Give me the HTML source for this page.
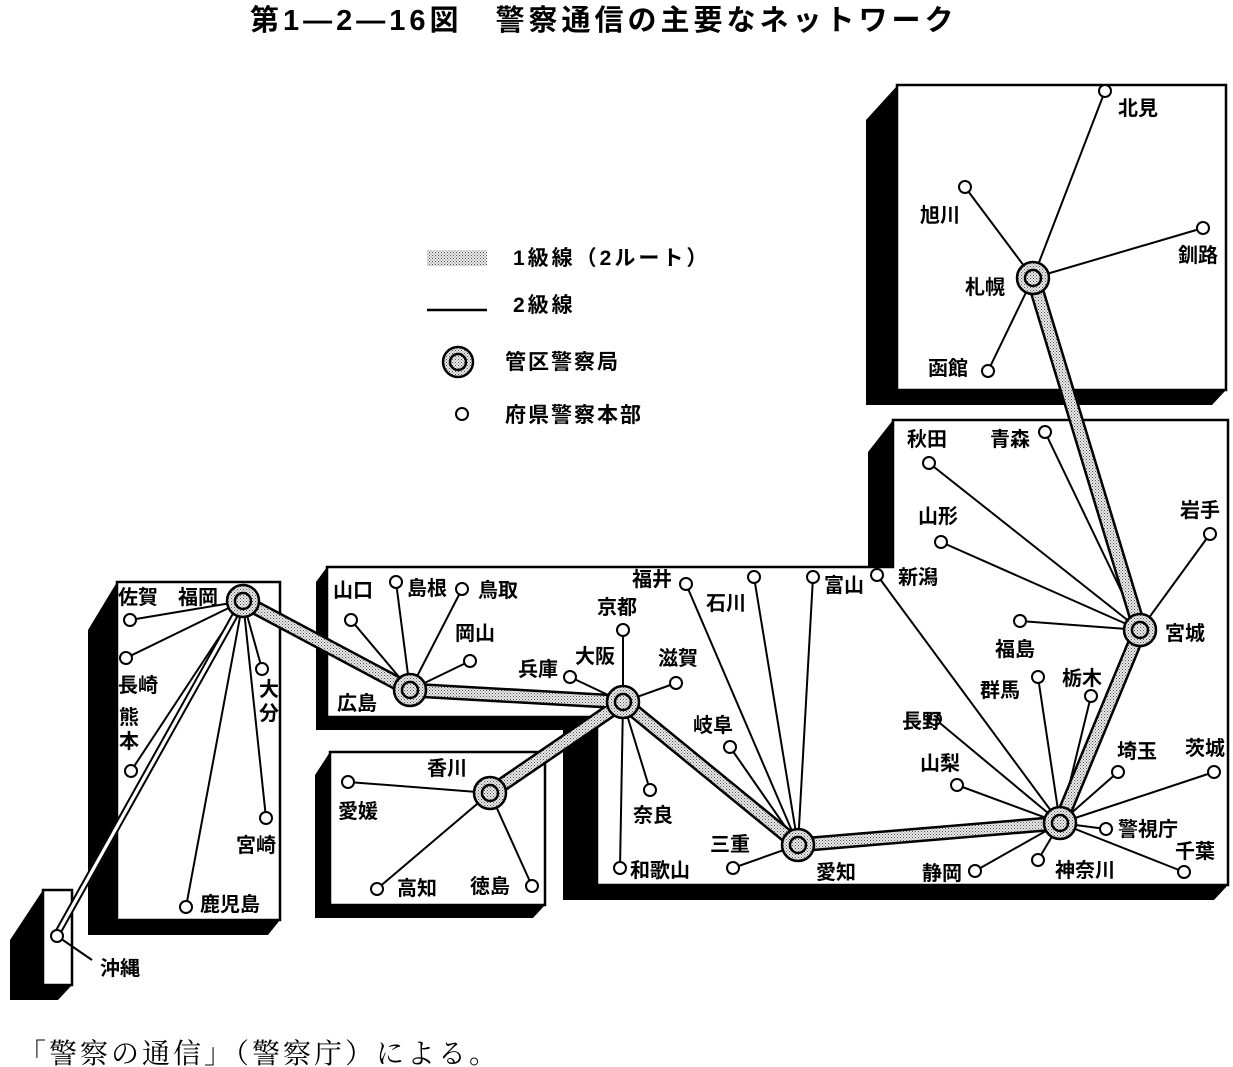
<!DOCTYPE html>
<html><head><meta charset="utf-8"><style>
html,body{margin:0;padding:0;background:#fff;}
svg{display:block;}
text{font-family:"Liberation Sans","Noto Sans CJK JP",sans-serif;font-weight:bold;font-size:20px;fill:#000;}
</style></head><body>
<svg width="1233" height="1067" viewBox="0 0 1233 1067" xmlns="http://www.w3.org/2000/svg">
<defs>
<pattern id="st" width="3" height="3" patternUnits="userSpaceOnUse"><rect width="3" height="3" fill="#e8e8e8"/><rect width="1" height="1" fill="#555"/><rect x="1.5" y="1.5" width="1" height="1" fill="#777"/></pattern>
</defs>
<text x="250" y="30" style="font-size:29px;letter-spacing:4px">第1—2—16図　警察通信の主要なネットワーク</text>

<!-- shadows -->
<polygon points="897,86 866,120 866,405 1212,405 1226,390 897,390" fill="#000"/>
<polygon points="893,420 868,452 868,567 893,567" fill="#000"/>
<polygon points="327,567 316,582 316,730 563,730 563,717 327,717" fill="#000"/>
<polygon points="563,717 563,900 1214,900 1228,885 597,885 597,717" fill="#000"/>
<polygon points="330,752 315,775 315,918 533,918 545,905 330,905" fill="#000"/>
<polygon points="117,582 88,630 88,935 268,935 280,920 117,920" fill="#000"/>
<polygon points="43,890 10,940 10,1000 58,1000 72,985 43,985" fill="#000"/>
<!-- boxes -->
<rect x="897" y="85" width="329" height="305" fill="#fff" stroke="#000" stroke-width="2.5"/>
<polygon points="327,567 893,567 893,420 1228,420 1228,885 597,885 597,717 327,717" fill="#fff" stroke="#000" stroke-width="2.5"/>
<rect x="330" y="752" width="215" height="153" fill="#fff" stroke="#000" stroke-width="2.5"/>
<rect x="117" y="582" width="163" height="338" fill="#fff" stroke="#000" stroke-width="2.5"/>
<rect x="43" y="890" width="29" height="95" fill="#fff" stroke="#000" stroke-width="2.5"/>

<!-- legend -->
<rect x="427" y="250" width="60" height="16" fill="url(#st)"/>
<text x="513" y="265" style="font-size:21px;letter-spacing:3px">1級線（2ルート）</text>
<line x1="427" y1="310" x2="487" y2="310" stroke="#000" stroke-width="2.5"/>
<text x="513" y="312" style="font-size:21px;letter-spacing:3px">2級線</text>
<g transform="translate(458,362)"><circle r="15" fill="url(#st)" stroke="#000" stroke-width="2.5"/><circle r="8" fill="url(#st)" stroke="#000" stroke-width="2.5"/></g>
<text x="505" y="369" style="font-size:21px;letter-spacing:2px">管区警察局</text>
<circle cx="462" cy="414" r="6" fill="#fff" stroke="#000" stroke-width="2"/>
<text x="505" y="422" style="font-size:21px;letter-spacing:2px">府県警察本部</text>

<!-- 2級線 -->
<g stroke="#000" stroke-width="2" fill="none">
<line x1="243" y1="601" x2="130" y2="620"/><line x1="243" y1="601" x2="126" y2="658"/>
<line x1="243" y1="601" x2="131" y2="771"/><line x1="243" y1="601" x2="262" y2="669"/>
<line x1="243" y1="601" x2="266" y2="818"/><line x1="243" y1="601" x2="186" y2="907"/>
<line x1="243" y1="601" x2="57" y2="934" stroke="#fff" stroke-width="7"/>
<line x1="240" y1="601" x2="54" y2="934"/><line x1="246" y1="601" x2="60" y2="934"/>
<line x1="57" y1="936" x2="92" y2="960"/>
<line x1="410" y1="690" x2="351" y2="620"/><line x1="410" y1="690" x2="396" y2="582"/>
<line x1="410" y1="690" x2="462" y2="589"/><line x1="410" y1="690" x2="470" y2="661"/>
<line x1="623" y1="702" x2="570" y2="677"/><line x1="623" y1="702" x2="623" y2="630"/>
<line x1="623" y1="702" x2="676" y2="683"/><line x1="623" y1="702" x2="650" y2="790"/>
<line x1="623" y1="702" x2="620" y2="868"/>
<line x1="490" y1="793" x2="348" y2="782"/><line x1="490" y1="793" x2="377" y2="889"/>
<line x1="490" y1="793" x2="532" y2="886"/>
<line x1="798" y1="845" x2="686" y2="584"/><line x1="798" y1="845" x2="754" y2="577"/>
<line x1="798" y1="845" x2="813" y2="577"/><line x1="798" y1="845" x2="730" y2="747"/>
<line x1="798" y1="845" x2="733" y2="868"/>
<line x1="1033" y1="278" x2="1105" y2="91"/><line x1="1033" y1="278" x2="965" y2="187"/>
<line x1="1033" y1="278" x2="1203" y2="228"/><line x1="1033" y1="278" x2="988" y2="371"/>
<line x1="1140" y1="630" x2="929" y2="463"/><line x1="1140" y1="630" x2="1045" y2="432"/>
<line x1="1140" y1="630" x2="941" y2="542"/><line x1="1140" y1="630" x2="1210" y2="534"/>
<line x1="1140" y1="630" x2="1020" y2="621"/>
<line x1="1060" y1="823" x2="877" y2="575"/><line x1="1060" y1="823" x2="935" y2="719"/>
<line x1="1060" y1="823" x2="1038" y2="677"/><line x1="1060" y1="823" x2="1091" y2="696"/>
<line x1="1060" y1="823" x2="957" y2="785"/><line x1="1060" y1="823" x2="1118" y2="772"/>
<line x1="1060" y1="823" x2="1214" y2="772"/><line x1="1060" y1="823" x2="1106" y2="829"/>
<line x1="1060" y1="823" x2="1184" y2="872"/><line x1="1060" y1="823" x2="975" y2="871"/>
<line x1="1060" y1="823" x2="1038" y2="860"/>
</g>

<!-- 1級線 -->
<g stroke-linecap="butt" fill="none">
<polyline points="243,601 410,690 623,702 798,845 1060,823 1140,630 1033,278" stroke="#000" stroke-width="15" stroke-linejoin="round"/>
<line x1="623" y1="702" x2="490" y2="793" stroke="#000" stroke-width="15"/>
<polyline points="243,601 410,690 623,702 798,845 1060,823 1140,630 1033,278" stroke="url(#st)" stroke-width="10" stroke-linejoin="round"/>
<line x1="623" y1="702" x2="490" y2="793" stroke="url(#st)" stroke-width="10"/>
</g>

<!-- hubs -->
<g stroke="#000" stroke-width="2.5">
<g transform="translate(243,601)"><circle r="16" fill="url(#st)"/><circle r="8" fill="url(#st)"/></g>
<g transform="translate(410,690)"><circle r="16" fill="url(#st)"/><circle r="8" fill="url(#st)"/></g>
<g transform="translate(623,702)"><circle r="16" fill="url(#st)"/><circle r="8" fill="url(#st)"/></g>
<g transform="translate(490,793)"><circle r="16" fill="url(#st)"/><circle r="8" fill="url(#st)"/></g>
<g transform="translate(798,845)"><circle r="16" fill="url(#st)"/><circle r="8" fill="url(#st)"/></g>
<g transform="translate(1033,278)"><circle r="16" fill="url(#st)"/><circle r="8" fill="url(#st)"/></g>
<g transform="translate(1140,630)"><circle r="16" fill="url(#st)"/><circle r="8" fill="url(#st)"/></g>
<g transform="translate(1060,823)"><circle r="16" fill="url(#st)"/><circle r="8" fill="url(#st)"/></g>
</g>

<!-- small nodes -->
<g fill="#fff" stroke="#000" stroke-width="2">
<circle cx="130" cy="620" r="6"/><circle cx="126" cy="658" r="6"/><circle cx="131" cy="771" r="6"/>
<circle cx="262" cy="669" r="6"/><circle cx="266" cy="818" r="6"/><circle cx="186" cy="907" r="6"/>
<circle cx="57" cy="936" r="6"/>
<circle cx="351" cy="620" r="6"/><circle cx="396" cy="582" r="6"/><circle cx="462" cy="589" r="6"/>
<circle cx="470" cy="661" r="6"/><circle cx="570" cy="677" r="6"/>
<circle cx="623" cy="630" r="6"/><circle cx="676" cy="683" r="6"/><circle cx="650" cy="790" r="6"/>
<circle cx="620" cy="868" r="6"/>
<circle cx="348" cy="782" r="6"/><circle cx="377" cy="889" r="6"/><circle cx="532" cy="886" r="6"/>
<circle cx="686" cy="584" r="6"/><circle cx="754" cy="577" r="6"/><circle cx="813" cy="577" r="6"/>
<circle cx="877" cy="575" r="6"/><circle cx="730" cy="747" r="6"/><circle cx="733" cy="868" r="6"/>
<circle cx="1105" cy="91" r="6"/><circle cx="965" cy="187" r="6"/><circle cx="1203" cy="228" r="6"/>
<circle cx="988" cy="371" r="6"/>
<circle cx="929" cy="463" r="6"/><circle cx="1045" cy="432" r="6"/><circle cx="941" cy="542" r="6"/>
<circle cx="1210" cy="534" r="6"/><circle cx="1020" cy="621" r="6"/>
<circle cx="935" cy="719" r="6"/><circle cx="1038" cy="677" r="6"/><circle cx="1091" cy="696" r="6"/>
<circle cx="957" cy="785" r="6"/><circle cx="1118" cy="772" r="6"/><circle cx="1214" cy="772" r="6"/>
<circle cx="1106" cy="829" r="6"/><circle cx="1184" cy="872" r="6"/><circle cx="975" cy="871" r="6"/>
<circle cx="1038" cy="860" r="6"/>
</g>

<!-- labels -->
<text x="118" y="604">佐賀</text><text x="178" y="604">福岡</text>
<text x="118" y="692">長崎</text>
<text x="119" y="724">熊</text><text x="119" y="748">本</text>
<text x="259" y="696">大</text><text x="259" y="720">分</text>
<text x="236" y="852">宮崎</text><text x="200" y="911">鹿児島</text><text x="100" y="975">沖縄</text>
<text x="333" y="597">山口</text><text x="407" y="595">島根</text><text x="478" y="597">鳥取</text>
<text x="455" y="640">岡山</text><text x="337" y="710">広島</text><text x="518" y="676">兵庫</text>
<text x="575" y="663">大阪</text><text x="597" y="614">京都</text><text x="658" y="665">滋賀</text>
<text x="427" y="775">香川</text><text x="338" y="818">愛媛</text><text x="397" y="895">高知</text>
<text x="470" y="893">徳島</text><text x="633" y="822">奈良</text><text x="630" y="877">和歌山</text>
<text x="632" y="586">福井</text><text x="706" y="610">石川</text><text x="824" y="592">富山</text>
<text x="898" y="584">新潟</text><text x="693" y="732">岐阜</text><text x="710" y="851">三重</text>
<text x="816" y="879">愛知</text>
<text x="1118" y="115">北見</text><text x="920" y="222">旭川</text><text x="1178" y="262">釧路</text>
<text x="965" y="294">札幌</text><text x="928" y="375">函館</text>
<text x="907" y="446">秋田</text><text x="990" y="446">青森</text><text x="918" y="523">山形</text>
<text x="1180" y="517">岩手</text><text x="1165" y="640">宮城</text><text x="995" y="656">福島</text>
<text x="902" y="728">長野</text><text x="980" y="697">群馬</text><text x="1062" y="685">栃木</text>
<text x="920" y="770">山梨</text><text x="1117" y="758">埼玉</text><text x="1185" y="755">茨城</text>
<text x="1118" y="836">警視庁</text><text x="1175" y="858">千葉</text><text x="922" y="880">静岡</text>
<text x="1055" y="877">神奈川</text>

<text x="18" y="1063" style="font-family:'Liberation Serif','Noto Serif CJK SC',serif;font-weight:normal;font-size:28px;letter-spacing:3px">「警察の通信」（警察庁）による。</text>
</svg>
</body></html>
